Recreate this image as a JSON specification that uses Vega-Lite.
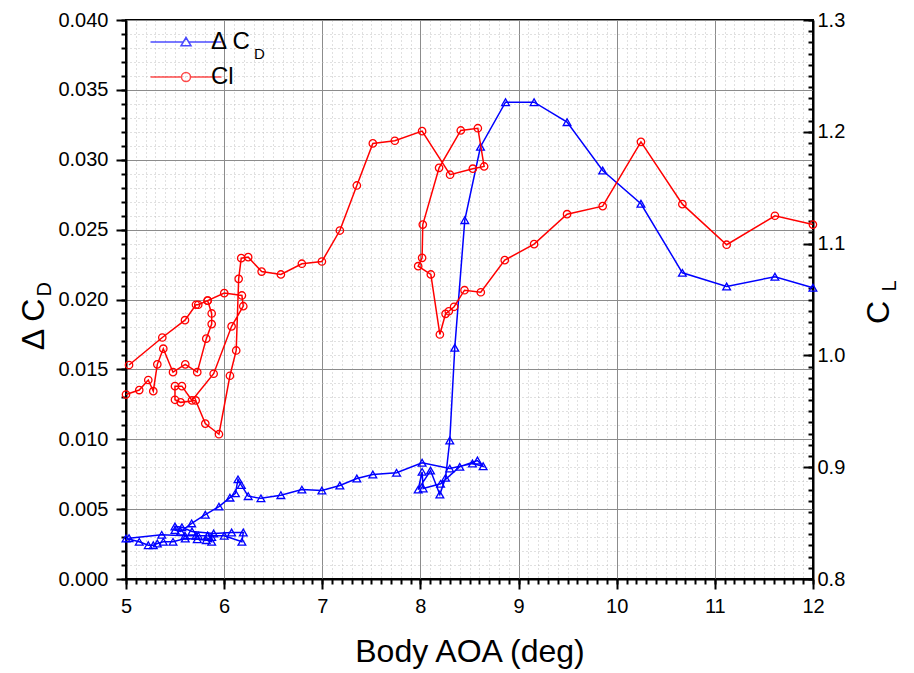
{
  "$schema": "https://vega.github.io/schema/vega-lite/v6.json",
  "width": 687,
  "height": 559,
  "autosize": {"type": "none"},
  "padding": {"left": 126, "top": 20, "right": 101, "bottom": 94},
  "background": "white",
  "config": {
    "view": {"stroke": "black", "strokeWidth": 2},
    "font": "Liberation Sans",
    "axis": {
      "labelFont": "Liberation Sans",
      "titleFont": "Liberation Sans",
      "labelColor": "black",
      "titleColor": "black",
      "labelFontSize": 20,
      "titleFontWeight": "normal",
      "domainColor": "black",
      "domainWidth": 2,
      "tickColor": "black",
      "tickWidth": 2,
      "labelFlush": false,
      "labelOverlap": false
    },
    "legend": {"labelFont": "Liberation Sans", "labelColor": "black"}
  },
  "datasets": {
    "cd": [
      {"i": 1, "run": "A", "aoa": 5.0, "cd": 0.0029},
      {"i": 2, "run": "A", "aoa": 5.135, "cd": 0.00266},
      {"i": 3, "run": "A", "aoa": 5.227, "cd": 0.00242},
      {"i": 4, "run": "A", "aoa": 5.278, "cd": 0.00242},
      {"i": 5, "run": "A", "aoa": 5.319, "cd": 0.00254},
      {"i": 6, "run": "A", "aoa": 5.38, "cd": 0.00266},
      {"i": 7, "run": "A", "aoa": 5.479, "cd": 0.00266},
      {"i": 8, "run": "A", "aoa": 5.604, "cd": 0.0029},
      {"i": 9, "run": "A", "aoa": 5.726, "cd": 0.00285},
      {"i": 10, "run": "A", "aoa": 5.818, "cd": 0.00278},
      {"i": 11, "run": "A", "aoa": 5.873, "cd": 0.00266},
      {"i": 12, "run": "A", "aoa": 5.873, "cd": 0.003},
      {"i": 13, "run": "A", "aoa": 5.832, "cd": 0.0031},
      {"i": 14, "run": "A", "aoa": 6.001, "cd": 0.0031},
      {"i": 15, "run": "A", "aoa": 6.181, "cd": 0.00266},
      {"i": 16, "run": "A", "aoa": 6.195, "cd": 0.00333},
      {"i": 17, "run": "A", "aoa": 6.076, "cd": 0.00333},
      {"i": 18, "run": "A", "aoa": 5.893, "cd": 0.00326},
      {"i": 19, "run": "A", "aoa": 5.672, "cd": 0.0034},
      {"i": 20, "run": "A", "aoa": 5.57, "cd": 0.0037},
      {"i": 21, "run": "A", "aoa": 5.499, "cd": 0.00376},
      {"i": 22, "run": "A", "aoa": 5.499, "cd": 0.0035},
      {"i": 23, "run": "A", "aoa": 5.557, "cd": 0.0034},
      {"i": 24, "run": "A", "aoa": 5.669, "cd": 0.00398},
      {"i": 25, "run": "A", "aoa": 5.808, "cd": 0.0046},
      {"i": 26, "run": "A", "aoa": 5.947, "cd": 0.00518},
      {"i": 27, "run": "A", "aoa": 6.059, "cd": 0.00582},
      {"i": 28, "run": "A", "aoa": 6.115, "cd": 0.00613},
      {"i": 29, "run": "A", "aoa": 6.141, "cd": 0.00713},
      {"i": 30, "run": "A", "aoa": 6.175, "cd": 0.00672},
      {"i": 31, "run": "A", "aoa": 6.245, "cd": 0.00593},
      {"i": 32, "run": "A", "aoa": 6.375, "cd": 0.00577},
      {"i": 33, "run": "A", "aoa": 6.578, "cd": 0.006},
      {"i": 34, "run": "A", "aoa": 6.792, "cd": 0.0064},
      {"i": 35, "run": "A", "aoa": 6.996, "cd": 0.00633},
      {"i": 36, "run": "A", "aoa": 7.179, "cd": 0.00669},
      {"i": 37, "run": "A", "aoa": 7.352, "cd": 0.00719},
      {"i": 38, "run": "A", "aoa": 7.515, "cd": 0.00748},
      {"i": 39, "run": "A", "aoa": 7.757, "cd": 0.0076},
      {"i": 40, "run": "A", "aoa": 8.017, "cd": 0.00832},
      {"i": 41, "run": "A", "aoa": 8.299, "cd": 0.0079},
      {"i": 42, "run": "A", "aoa": 8.53, "cd": 0.00827},
      {"i": 43, "run": "A", "aoa": 8.639, "cd": 0.00807},
      {"i": 44, "run": "A", "aoa": 8.581, "cd": 0.00848},
      {"i": 45, "run": "A", "aoa": 8.401, "cd": 0.00803},
      {"i": 46, "run": "A", "aoa": 8.205, "cd": 0.00681},
      {"i": 47, "run": "A", "aoa": 8.028, "cd": 0.00648},
      {"i": 48, "run": "A", "aoa": 8.017, "cd": 0.00767},
      {"i": 49, "run": "A", "aoa": 7.977, "cd": 0.0064},
      {"i": 50, "run": "A", "aoa": 8.103, "cd": 0.00776},
      {"i": 51, "run": "A", "aoa": 8.198, "cd": 0.00605},
      {"i": 52, "run": "A", "aoa": 8.256, "cd": 0.00724},
      {"i": 53, "run": "A", "aoa": 8.299, "cd": 0.00991},
      {"i": 54, "run": "A", "aoa": 8.35, "cd": 0.01655},
      {"i": 55, "run": "A", "aoa": 8.452, "cd": 0.02568},
      {"i": 56, "run": "A", "aoa": 8.612, "cd": 0.03093},
      {"i": 57, "run": "A", "aoa": 8.867, "cd": 0.03412},
      {"i": 58, "run": "A", "aoa": 9.158, "cd": 0.03412},
      {"i": 59, "run": "A", "aoa": 9.494, "cd": 0.03269},
      {"i": 60, "run": "A", "aoa": 9.857, "cd": 0.02923},
      {"i": 61, "run": "A", "aoa": 10.247, "cd": 0.02685},
      {"i": 62, "run": "A", "aoa": 10.669, "cd": 0.02191},
      {"i": 63, "run": "A", "aoa": 11.12, "cd": 0.02093},
      {"i": 64, "run": "A", "aoa": 11.612, "cd": 0.02163},
      {"i": 65, "run": "A", "aoa": 11.999, "cd": 0.02084},
      {"i": 101, "run": "B", "aoa": 5.031, "cd": 0.00292},
      {"i": 102, "run": "B", "aoa": 5.364, "cd": 0.00316},
      {"i": 103, "run": "B", "aoa": 5.601, "cd": 0.0031},
      {"i": 104, "run": "B", "aoa": 5.713, "cd": 0.0031},
      {"i": 105, "run": "B", "aoa": 5.736, "cd": 0.0031},
      {"i": 106, "run": "B", "aoa": 5.832, "cd": 0.0031}
    ],
    "cl": [
      {"i": 1, "run": "A", "aoa": 5.0, "cl": 0.965},
      {"i": 2, "run": "A", "aoa": 5.135, "cl": 0.969},
      {"i": 3, "run": "A", "aoa": 5.227, "cl": 0.978},
      {"i": 4, "run": "A", "aoa": 5.278, "cl": 0.968},
      {"i": 5, "run": "A", "aoa": 5.319, "cl": 0.992},
      {"i": 6, "run": "A", "aoa": 5.38, "cl": 1.006},
      {"i": 7, "run": "A", "aoa": 5.479, "cl": 0.985},
      {"i": 8, "run": "A", "aoa": 5.604, "cl": 0.992},
      {"i": 9, "run": "A", "aoa": 5.726, "cl": 0.985},
      {"i": 10, "run": "A", "aoa": 5.818, "cl": 1.015},
      {"i": 11, "run": "A", "aoa": 5.873, "cl": 1.028},
      {"i": 12, "run": "A", "aoa": 5.873, "cl": 1.0375},
      {"i": 13, "run": "A", "aoa": 5.832, "cl": 1.049},
      {"i": 14, "run": "A", "aoa": 6.001, "cl": 1.0557},
      {"i": 15, "run": "A", "aoa": 6.181, "cl": 1.0536},
      {"i": 16, "run": "A", "aoa": 6.195, "cl": 1.044},
      {"i": 17, "run": "A", "aoa": 6.076, "cl": 1.026},
      {"i": 18, "run": "A", "aoa": 5.893, "cl": 0.9836},
      {"i": 19, "run": "A", "aoa": 5.672, "cl": 0.9597},
      {"i": 20, "run": "A", "aoa": 5.57, "cl": 0.9725},
      {"i": 21, "run": "A", "aoa": 5.499, "cl": 0.9725},
      {"i": 22, "run": "A", "aoa": 5.499, "cl": 0.9603},
      {"i": 23, "run": "A", "aoa": 5.557, "cl": 0.958},
      {"i": 24, "run": "A", "aoa": 5.71, "cl": 0.9597},
      {"i": 25, "run": "A", "aoa": 5.808, "cl": 0.939},
      {"i": 26, "run": "A", "aoa": 5.947, "cl": 0.9295},
      {"i": 27, "run": "A", "aoa": 6.059, "cl": 0.9818},
      {"i": 28, "run": "A", "aoa": 6.123, "cl": 1.0044},
      {"i": 29, "run": "A", "aoa": 6.148, "cl": 1.0685},
      {"i": 30, "run": "A", "aoa": 6.174, "cl": 1.087},
      {"i": 31, "run": "A", "aoa": 6.245, "cl": 1.0879},
      {"i": 32, "run": "A", "aoa": 6.382, "cl": 1.075},
      {"i": 33, "run": "A", "aoa": 6.578, "cl": 1.0724},
      {"i": 34, "run": "A", "aoa": 6.792, "cl": 1.082},
      {"i": 35, "run": "A", "aoa": 6.996, "cl": 1.084},
      {"i": 36, "run": "A", "aoa": 7.179, "cl": 1.1117},
      {"i": 37, "run": "A", "aoa": 7.352, "cl": 1.152},
      {"i": 38, "run": "A", "aoa": 7.515, "cl": 1.1896},
      {"i": 39, "run": "A", "aoa": 7.739, "cl": 1.192},
      {"i": 40, "run": "A", "aoa": 8.017, "cl": 1.2006},
      {"i": 41, "run": "A", "aoa": 8.302, "cl": 1.1616},
      {"i": 42, "run": "A", "aoa": 8.534, "cl": 1.167},
      {"i": 43, "run": "A", "aoa": 8.649, "cl": 1.169},
      {"i": 44, "run": "A", "aoa": 8.585, "cl": 1.2032},
      {"i": 45, "run": "A", "aoa": 8.411, "cl": 1.2012},
      {"i": 46, "run": "A", "aoa": 8.19, "cl": 1.1678},
      {"i": 47, "run": "A", "aoa": 8.024, "cl": 1.117},
      {"i": 48, "run": "A", "aoa": 8.017, "cl": 1.0873},
      {"i": 49, "run": "A", "aoa": 7.977, "cl": 1.0798},
      {"i": 50, "run": "A", "aoa": 8.106, "cl": 1.0724},
      {"i": 51, "run": "A", "aoa": 8.198, "cl": 1.0187},
      {"i": 52, "run": "A", "aoa": 8.256, "cl": 1.0372},
      {"i": 53, "run": "A", "aoa": 8.289, "cl": 1.0395},
      {"i": 54, "run": "A", "aoa": 8.343, "cl": 1.0435},
      {"i": 55, "run": "A", "aoa": 8.449, "cl": 1.0583},
      {"i": 56, "run": "A", "aoa": 8.615, "cl": 1.0565},
      {"i": 57, "run": "A", "aoa": 8.859, "cl": 1.0852},
      {"i": 58, "run": "A", "aoa": 9.158, "cl": 1.0995},
      {"i": 59, "run": "A", "aoa": 9.494, "cl": 1.1263},
      {"i": 60, "run": "A", "aoa": 9.857, "cl": 1.1335},
      {"i": 61, "run": "A", "aoa": 10.247, "cl": 1.191},
      {"i": 62, "run": "A", "aoa": 10.669, "cl": 1.1353},
      {"i": 63, "run": "A", "aoa": 11.12, "cl": 1.099},
      {"i": 64, "run": "A", "aoa": 11.612, "cl": 1.1249},
      {"i": 65, "run": "A", "aoa": 11.999, "cl": 1.117},
      {"i": 101, "run": "B", "aoa": 5.031, "cl": 0.9914},
      {"i": 102, "run": "B", "aoa": 5.37, "cl": 1.016},
      {"i": 103, "run": "B", "aoa": 5.601, "cl": 1.0315},
      {"i": 104, "run": "B", "aoa": 5.713, "cl": 1.0453},
      {"i": 105, "run": "B", "aoa": 5.736, "cl": 1.0453},
      {"i": 106, "run": "B", "aoa": 5.832, "cl": 1.049}
    ]
  },
  "layer": [
    {
      "data": {"name": "cd"},
      "mark": {"type": "point", "opacity": 0},
      "encoding": {
        "x": {"field": "aoa", "type": "quantitative",
          "scale": {"domain": [5, 12], "nice": false, "zero": false},
          "axis": {"orient": "bottom", "values": [5,5.1,5.2,5.3,5.4,5.5,5.6,5.7,5.8,5.9,6,6.1,6.2,6.3,6.4,6.5,6.6,6.7,6.8,6.9,7,7.1,7.2,7.3,7.4,7.5,7.6,7.7,7.8,7.9,8,8.1,8.2,8.3,8.4,8.5,8.6,8.7,8.8,8.9,9,9.1,9.2,9.3,9.4,9.5,9.6,9.7,9.8,9.9,10,10.1,10.2,10.3,10.4,10.5,10.6,10.7,10.8,10.9,11,11.1,11.2,11.3,11.4,11.5,11.6,11.7,11.8,11.9,12],
            "labels": false, "tickSize": 5, "domain": false, "title": null,
            "grid": true, "gridColor": "#c0c0c0", "gridDash": [1, 3], "gridWidth": 1}},
        "y": {"field": "cd", "type": "quantitative",
          "scale": {"domain": [0, 0.04], "nice": false, "zero": false},
          "axis": {"orient": "left", "values": [0,0.001,0.002,0.003,0.004,0.005,0.006,0.007,0.008,0.009,0.01,0.011,0.012,0.013,0.014,0.015,0.016,0.017,0.018,0.019,0.02,0.021,0.022,0.023,0.024,0.025,0.026,0.027,0.028,0.029,0.03,0.031,0.032,0.033,0.034,0.035,0.036,0.037,0.038,0.039,0.04],
            "labels": false, "tickSize": 5, "domain": false, "title": null,
            "grid": true, "gridColor": "#c0c0c0", "gridDash": [1, 3], "gridWidth": 1}}
      }
    },
    {
      "data": {"name": "cd"},
      "mark": {"type": "line", "color": "#0000ff", "strokeWidth": 1.5},
      "encoding": {
        "x": {"field": "aoa", "type": "quantitative",
          "scale": {"domain": [5, 12], "nice": false, "zero": false},
          "axis": {"orient": "bottom", "values": [5,6,7,8,9,10,11,12], "tickSize": 10, "labelPadding": 7,
            "grid": true, "gridColor": "#8c8c8c", "gridWidth": 1,
            "title": "Body AOA (deg)", "titleFontSize": 32, "titlePadding": 20}},
        "y": {"field": "cd", "type": "quantitative",
          "scale": {"domain": [0, 0.04], "nice": false, "zero": false},
          "axis": {"orient": "left", "values": [0,0.005,0.01,0.015,0.02,0.025,0.03,0.035,0.04], "format": ".3f",
            "tickSize": 10, "labelPadding": 8, "grid": true, "gridColor": "#8c8c8c", "gridWidth": 1,
            "title": "Δ C", "titleFontSize": 32, "titleAngle": 270, "titleAlign": "center", "titleBaseline": "alphabetic",
            "titleX": -83, "titleY": 304}},
        "detail": {"field": "run"},
        "order": {"field": "i", "type": "quantitative"}
      }
    },
    {
      "data": {"name": "cd"},
      "mark": {"type": "point", "shape": "triangle-up", "filled": false, "color": "#0000ff", "size": 60, "strokeWidth": 1.3, "opacity": 1},
      "encoding": {
        "x": {"field": "aoa", "type": "quantitative", "scale": {"domain": [5, 12], "nice": false, "zero": false}, "axis": null},
        "y": {"field": "cd", "type": "quantitative", "scale": {"domain": [0, 0.04], "nice": false, "zero": false}, "axis": null}
      }
    },
    {
      "data": {"name": "cl"},
      "mark": {"type": "line", "color": "#ff0000", "strokeWidth": 1.5},
      "encoding": {
        "x": {"field": "aoa", "type": "quantitative", "scale": {"domain": [5, 12], "nice": false, "zero": false}, "axis": null},
        "y": {"field": "cl", "type": "quantitative",
          "scale": {"domain": [0.8, 1.3], "nice": false, "zero": false},
          "axis": {"orient": "right", "values": [0.8,0.9,1.0,1.1,1.2,1.3], "format": ".1f",
            "tickSize": -10, "labelPadding": 14, "grid": false,
            "title": "C", "titleFontSize": 32, "titleAngle": 270, "titleAlign": "center", "titleBaseline": "alphabetic",
            "titleX": 75, "titleY": 292}},
        "detail": {"field": "run"},
        "order": {"field": "i", "type": "quantitative"}
      }
    },
    {
      "data": {"name": "cl"},
      "mark": {"type": "point", "shape": "circle", "filled": false, "color": "#ff0000", "size": 55, "strokeWidth": 1.3, "opacity": 1},
      "encoding": {
        "x": {"field": "aoa", "type": "quantitative", "scale": {"domain": [5, 12], "nice": false, "zero": false}, "axis": null},
        "y": {"field": "cl", "type": "quantitative", "scale": {"domain": [0.8, 1.3], "nice": false, "zero": false}, "axis": null}
      }
    },
    {
      "data": {"name": "cl"},
      "mark": {"type": "point", "opacity": 0},
      "encoding": {
        "x": {"field": "aoa", "type": "quantitative", "scale": {"domain": [5, 12], "nice": false, "zero": false}, "axis": null},
        "y": {"field": "cl", "type": "quantitative",
          "scale": {"domain": [0.8, 1.3], "nice": false, "zero": false},
          "axis": {"orient": "right", "values": [0.8,0.81,0.82,0.83,0.84,0.85,0.86,0.87,0.88,0.89,0.9,0.91,0.92,0.93,0.94,0.95,0.96,0.97,0.98,0.99,1.0,1.01,1.02,1.03,1.04,1.05,1.06,1.07,1.08,1.09,1.1,1.11,1.12,1.13,1.14,1.15,1.16,1.17,1.18,1.19,1.2,1.21,1.22,1.23,1.24,1.25,1.26,1.27,1.28,1.29,1.3],
            "labels": false, "tickSize": -5, "domain": false, "grid": false, "title": null}}
      }
    },
    {
      "data": {"name": "cd"},
      "mark": {"type": "point", "opacity": 0},
      "encoding": {
        "y": {"field": "cd", "type": "quantitative",
          "scale": {"domain": [0, 0.04], "nice": false, "zero": false},
          "axis": {"orient": "left", "domain": false, "ticks": false, "labels": false, "grid": false,
            "title": "D", "titleFontSize": 20, "titleAngle": 270, "titleAlign": "left", "titleBaseline": "alphabetic",
            "titleX": -76, "titleY": 276}}
      }
    },
    {
      "data": {"name": "cl"},
      "mark": {"type": "point", "opacity": 0},
      "encoding": {
        "y": {"field": "cl", "type": "quantitative",
          "scale": {"domain": [0.8, 1.3], "nice": false, "zero": false},
          "axis": {"orient": "right", "domain": false, "ticks": false, "labels": false, "grid": false,
            "title": "L", "titleFontSize": 20, "titleAngle": 270, "titleAlign": "left", "titleBaseline": "alphabetic",
            "titleX": 82, "titleY": 271}}
      }
    },
    {
      "data": {"values": []},
      "mark": {"type": "point", "filled": false, "strokeWidth": 1.5},
      "encoding": {
        "color": {"field": "series", "type": "nominal",
          "scale": {"domain": ["Δ C", "Cl"], "range": ["#0000ff", "#ff0000"]},
          "legend": {"orient": "none", "legendX": 48, "legendY": 10, "title": null, "padding": 0,
            "labelFontSize": 24, "labelOffset": 13, "rowPadding": 11, "symbolSize": 100, "symbolStrokeWidth": 1.5, "symbolFillColor": "transparent"}},
        "shape": {"field": "series", "type": "nominal",
          "scale": {"domain": ["Δ C", "Cl"], "range": ["M-7.1,0H-0.55M0.55,0H7.1M0,-0.9L1,0.75H-1Z", "M-7.1,0H-0.9M0.9,0H7.1M0.9,0A0.9,0.9 0 1 1 -0.9,0A0.9,0.9 0 1 1 0.9,0"]}}
      }
    },
    {
      "data": {"values": []},
      "mark": {"type": "point", "filled": false},
      "encoding": {
        "size": {"field": "sub", "type": "ordinal",
          "scale": {"domain": ["D"], "range": [1]},
          "legend": {"orient": "none", "legendX": 128, "legendY": 34, "title": null, "padding": 0,
            "labelFontSize": 15, "labelOffset": 0, "symbolOpacity": 0, "symbolStrokeColor": "transparent"}}
      }
    }
  ],
  "resolve": {
    "scale": {"y": "independent", "shape": "independent", "size": "independent", "color": "independent"},
    "axis": {"x": "independent", "y": "independent"}
  }
}
